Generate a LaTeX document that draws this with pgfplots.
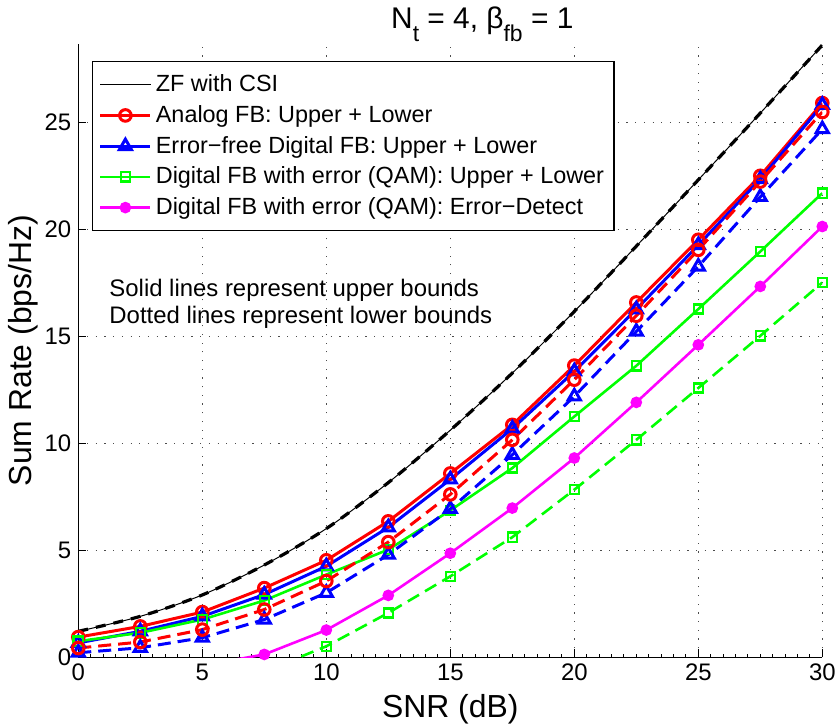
\documentclass[border=0pt]{standalone}
\usepackage{fontspec}
\setmainfont{Liberation Sans}
\usepackage{pgfplots}
\pgfplotsset{compat=1.18}
\definecolor{mred}{RGB}{255,0,0}
\definecolor{mblue}{RGB}{0,0,255}
\definecolor{mgreen}{RGB}{0,255,0}
\definecolor{mmag}{RGB}{255,0,255}

\begin{document}
\begin{tikzpicture}
\begin{axis}[
  scale only axis, width=372bp, height=306.5bp,
  xmin=0, xmax=30, ymin=0, ymax=28.65,
  axis x line=bottom, axis y line=left,
  axis line style={-, line width=0.5bp},
  xtick={0,5,...,30}, ytick={0,5,...,25},
  minor x tick num=9,
  tick align=inside, major tick length=3.8bp, minor tick length=1.3bp,
  tick style={black, line width=0.5bp},
  grid=major,
  grid style={black!70, line width=0.45bp, dash pattern=on 0.6bp off 3.75bp},
  ticklabel style={font=\fontsize{12}{14}\selectfont},
  /pgf/number format/assume math mode=true,
  xlabel={SNR (dB)}, ylabel={Sum Rate (bps/Hz)},
  label style={font=\fontsize{16}{19}\selectfont},
  ylabel style={yshift=-3.5bp},
  title={N\raisebox{-6.5bp}{\fontsize{11.5}{12}\selectfont t} = 4, β\raisebox{-6.5bp}{\fontsize{11.5}{12}\selectfont fb} = 1},
  title style={font=\fontsize{15}{18}\selectfont, at={(0.543,1)}, anchor=base, yshift=2bp, inner sep=0pt},
  legend style={at={(0.0188,0.972)}, anchor=north west, draw=black, line width=0.6bp,
    fill=white, font=\fontsize{11.75}{13}\selectfont,
    inner xsep=3bp, inner ysep=4.5bp, row sep=1.4bp},
  legend cell align=left,
  legend image code/.code={\draw[mark repeat=2,mark phase=2,#1]
    plot coordinates {(0bp,0bp) (12.5bp,0bp) (25bp,0bp)};},
]
% ZF with CSI: thin line with the thick dashed copy on top
\addplot[black, line width=0.5bp, smooth] coordinates {
  (0,1.2) (2.5,1.9) (5,2.9) (7.5,4.3) (10,6.0) (12.5,8.15) (15,10.6)
  (17.5,13.27) (20,16.15) (22.5,19.2) (25,22.3) (27.5,25.42) (30,28.6)};
\addlegendentry{ZF with CSI}
\addplot[black, line width=1.6bp, dash pattern=on 5bp off 4bp, smooth, forget plot] coordinates {
  (0,1.2) (2.5,1.9) (5,2.9) (7.5,4.3) (10,6.0) (12.5,8.15) (15,10.6)
  (17.5,13.27) (20,16.15) (22.5,19.2) (25,22.3) (27.5,25.42) (30,28.6)};

% upper bounds (solid)
\addplot[mred, line width=1.5bp, mark=o, mark size=2.9bp] coordinates {
  (0,0.93) (2.5,1.43) (5,2.1) (7.5,3.22) (10,4.52) (12.5,6.34) (15,8.58)
  (17.5,10.85) (20,13.62) (22.5,16.57) (25,19.5) (27.5,22.49) (30,25.89)};
\addlegendentry{Analog FB: Upper + Lower}
\addplot[mblue, line width=1.5bp, mark=triangle, mark size=3.5bp] coordinates {
  (0,0.66) (2.5,1.2) (5,1.9) (7.5,2.92) (10,4.24) (12.5,6.06) (15,8.3)
  (17.5,10.67) (20,13.35) (22.5,16.25) (25,19.25) (27.5,22.33) (30,25.8)};
\addlegendentry{Error−free Digital FB: Upper + Lower}
\addplot[mgreen, line width=1.3bp, mark=square, mark size=2.3bp, mark options={line width=1.2bp}] coordinates {
  (0,0.74) (2.5,1.13) (5,1.75) (7.5,2.64) (10,3.85) (12.5,5.02) (15,6.85)
  (17.5,8.83) (20,11.24) (22.5,13.61) (25,16.26) (27.5,18.95) (30,21.68)};
\addlegendentry{Digital FB with error (QAM): Upper + Lower}
\addplot[mmag, line width=1.3bp, mark=*, mark size=2.25bp] coordinates {
  (5,-0.4) (7.5,0.12) (10,1.26) (12.5,2.88) (15,4.85) (17.5,6.96)
  (20,9.3) (22.5,11.9) (25,14.59) (27.5,17.32) (30,20.12)};
\addlegendentry{Digital FB with error (QAM): Error−Detect}

% lower bounds (dashed)
\addplot[mgreen, line width=1.3bp, dash pattern=on 6.5bp off 3.5bp, mark=square, mark size=2.3bp,
  mark options={solid, line width=1.2bp}, forget plot] coordinates {
  (7.5,-0.68) (10,0.5) (12.5,2.06) (15,3.77) (17.5,5.6) (20,7.82)
  (22.5,10.15) (25,12.57) (27.5,15.01) (30,17.5)};
\addplot[mblue, line width=1.5bp, dash pattern=on 6.5bp off 3.5bp, mark=triangle, mark size=3.5bp,
  mark options={solid}, forget plot] coordinates {
  (0,0.2) (2.5,0.43) (5,0.9) (7.5,1.75) (10,3.0) (12.5,4.78) (15,6.92)
  (17.5,9.45) (20,12.18) (22.5,15.21) (25,18.25) (27.5,21.5) (30,24.67)};
\addplot[mred, line width=1.5bp, dash pattern=on 6.5bp off 3.5bp, mark=o, mark size=2.9bp,
  mark options={solid}, forget plot] coordinates {
  (0,0.42) (2.5,0.7) (5,1.28) (7.5,2.22) (10,3.55) (12.5,5.37) (15,7.6)
  (17.5,10.15) (20,12.96) (22.5,15.95) (25,19.03) (27.5,22.22) (30,25.47)};

\node[anchor=north west, inner sep=0pt, align=left, font=\fontsize{12}{13.7}\selectfont]
  at (axis cs:1.24,17.67) {Solid lines represent upper bounds\\Dotted lines represent lower bounds};
\end{axis}
\pgfresetboundingbox
\path[use as bounding box] ([xshift=-39.15bp,yshift=-34.35bp]current axis.south west)
  rectangle ([xshift=6.85bp,yshift=22bp]current axis.north east);
\end{tikzpicture}
\end{document}
